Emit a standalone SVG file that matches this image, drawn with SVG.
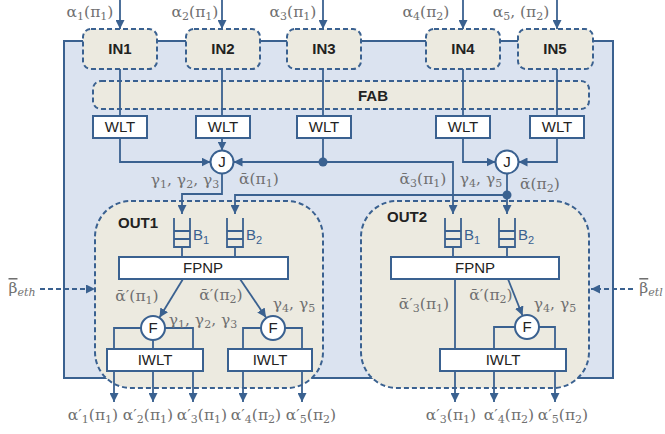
<svg xmlns="http://www.w3.org/2000/svg" width="665" height="434" viewBox="0 0 665 434">
<style>
.frame{fill:#dbe3f0;stroke:#3a6190;stroke-width:2}
.dn{fill:#eceae0;stroke:#3a6190;stroke-width:2;stroke-dasharray:5,3}
.bx{fill:#ffffff;stroke:#3a6190;stroke-width:2}
.c{fill:#3a6190;stroke:none}
.ln{fill:none;stroke:#3a6190;stroke-width:1.8}
.ar{marker-end:url(#ah)}
.dash{stroke-dasharray:5,3}
.nt{font-family:"Liberation Sans",Arial,sans-serif;font-size:15px;font-weight:bold;fill:#222;text-anchor:middle}
.bt{font-family:"Liberation Sans",Arial,sans-serif;font-size:15px;fill:#222;text-anchor:middle}
.bl{font-family:"Liberation Sans",Arial,sans-serif;font-size:15px;fill:#3a6190}
.m{font-family:"DejaVu Serif","Liberation Serif",serif;font-size:15.5px;fill:#707070;text-anchor:middle}
.s{font-size:11px}
.ov{text-decoration:overline}
</style>
<defs>
<marker id="ah" viewBox="0 0 10 10" refX="10" refY="5" markerWidth="9" markerHeight="9" markerUnits="userSpaceOnUse" orient="auto">
<path d="M0,0 L10,5 L0,10 z" fill="#3a6190"/>
</marker>
</defs>

<rect class="frame" x="64" y="41" width="549" height="337"/>

<g id="FAB"><rect class="dn" x="93" y="81" width="496" height="28" rx="8"/><text class="nt" x="373" y="101">FAB</text></g>

<g id="IN1"><rect class="dn" x="83" y="29" width="74" height="40" rx="8"/><text class="nt" x="120" y="54">IN1</text></g>
<g id="IN2"><rect class="dn" x="186" y="29" width="74" height="40" rx="8"/><text class="nt" x="223" y="54">IN2</text></g>
<g id="IN3"><rect class="dn" x="287" y="29" width="74" height="40" rx="8"/><text class="nt" x="324" y="54">IN3</text></g>
<g id="IN4"><rect class="dn" x="426" y="29" width="74" height="40" rx="8"/><text class="nt" x="463" y="54">IN4</text></g>
<g id="IN5"><rect class="dn" x="518" y="29" width="75" height="40" rx="8"/><text class="nt" x="555" y="54">IN5</text></g>

<g id="OUT1"><rect class="dn" x="95" y="201" width="228" height="187" rx="36"/><text class="nt" x="138" y="228">OUT1</text></g>
<g id="OUT2"><rect class="dn" x="361" y="201" width="228" height="187" rx="36"/><text class="nt" x="407" y="222">OUT2</text></g>

<g id="connectors">
<path class="ln ar" d="M120,0 V29"/>
<path class="ln ar" d="M222,0 V29"/>
<path class="ln ar" d="M323,0 V29"/>
<path class="ln ar" d="M463,0 V29"/>
<path class="ln ar" d="M557,0 V29"/>
<path class="ln" d="M120,69 V116 M222,69 V116 M323,69 V116 M463,69 V116 M557,69 V116"/>
<path class="ln ar" d="M120,138 V162 H210.5"/>
<path class="ln ar" d="M222,138 V150.5"/>
<path class="ln ar" d="M323,162 H233.5"/>
<path class="ln" d="M323,138 V162"/>
<path class="ln ar" d="M323,162 H453 V214"/>
<path class="ln ar" d="M222,173.5 V194 H182 V214"/>
<path class="ln ar" d="M463,138 V162 H495.5"/>
<path class="ln ar" d="M557,138 V162 H518.5"/>
<path class="ln ar" d="M507,173.5 V214"/>
<path class="ln ar" d="M507,195 H235 V214"/>
<circle class="c" cx="323" cy="162" r="4.5"/>
<circle class="c" cx="507" cy="195" r="4.5"/>
<path class="ln" d="M182,247 V257 M235,247 V257 M453,247 V257 M507,247 V257"/>
<path class="ln ar" d="M183,279 L159.5,317.5"/>
<path class="ln ar" d="M240,279 L266,317.5"/>
<path class="ln" d="M141,328 H114 V349 M165,328 H193 V349 M153,340 V349"/>
<path class="ln" d="M261,328 H243 V349 M285,328 H302 V349"/>
<path class="ln ar" d="M114,371 V402"/>
<path class="ln ar" d="M153,371 V402"/>
<path class="ln ar" d="M193,371 V402"/>
<path class="ln ar" d="M243,371 V402"/>
<path class="ln ar" d="M302,371 V402"/>
<path class="ln" d="M455,279 V349"/>
<path class="ln ar" d="M508,279 L522.5,315.5"/>
<path class="ln" d="M515,327 H494 V349 M539,327 H555 V349"/>
<path class="ln ar" d="M455,371 V402"/>
<path class="ln ar" d="M494,371 V402"/>
<path class="ln ar" d="M555,371 V402"/>
<path class="ln ar dash" d="M40,289 H95"/>
<path class="ln ar dash" d="M633,289 H591"/>
</g>

<g id="WLT1"><rect class="bx" x="93" y="116" width="54" height="22"/><text class="bt" x="120" y="132">WLT</text></g>
<g id="WLT2"><rect class="bx" x="196" y="116" width="54" height="22"/><text class="bt" x="223" y="132">WLT</text></g>
<g id="WLT3"><rect class="bx" x="297" y="116" width="54" height="22"/><text class="bt" x="324" y="132">WLT</text></g>
<g id="WLT4"><rect class="bx" x="436" y="116" width="54" height="22"/><text class="bt" x="463" y="132">WLT</text></g>
<g id="WLT5"><rect class="bx" x="530" y="116" width="54" height="22"/><text class="bt" x="557" y="132">WLT</text></g>

<g id="J1"><circle class="bx" cx="222" cy="162" r="11.5"/><text class="bt" x="222" y="167">J</text></g>
<g id="J2"><circle class="bx" cx="507" cy="162" r="11.5"/><text class="bt" x="507" y="167">J</text></g>

<g id="B1_OUT1"><path class="ln" d="M174,218 V247 H190 V218 M174,231 H190 M174,239 H190"/><text class="bl" x="193" y="240">B<tspan class="s" dy="4">1</tspan></text></g>
<g id="B2_OUT1"><path class="ln" d="M227,218 V247 H243 V218 M227,231 H243 M227,239 H243"/><text class="bl" x="246" y="240">B<tspan class="s" dy="4">2</tspan></text></g>
<g id="B1_OUT2"><path class="ln" d="M445,218 V247 H461 V218 M445,231 H461 M445,239 H461"/><text class="bl" x="464" y="240">B<tspan class="s" dy="4">1</tspan></text></g>
<g id="B2_OUT2"><path class="ln" d="M499,218 V247 H515 V218 M499,231 H515 M499,239 H515"/><text class="bl" x="518" y="240">B<tspan class="s" dy="4">2</tspan></text></g>

<g id="FPNP1"><rect class="bx" x="119" y="257" width="169" height="22"/><text class="bt" x="203" y="273">FPNP</text></g>
<g id="FPNP2"><rect class="bx" x="391" y="257" width="168" height="22"/><text class="bt" x="475" y="273">FPNP</text></g>

<g id="F1"><circle class="bx" cx="153" cy="328" r="12"/><text class="bt" x="153" y="333">F</text></g>
<g id="F2"><circle class="bx" cx="273" cy="328" r="12"/><text class="bt" x="273" y="333">F</text></g>
<g id="F3"><circle class="bx" cx="527" cy="327" r="12"/><text class="bt" x="527" y="332">F</text></g>

<g id="IWLT1"><rect class="bx" x="107" y="349" width="96" height="22"/><text class="bt" x="155" y="365">IWLT</text></g>
<g id="IWLT2"><rect class="bx" x="228" y="349" width="84" height="22"/><text class="bt" x="270" y="365">IWLT</text></g>
<g id="IWLT3"><rect class="bx" x="440" y="349" width="126" height="22"/><text class="bt" x="503" y="365">IWLT</text></g>

<g id="labels">
<text class="m" x="90" y="17">α<tspan class="s" dy="3">1</tspan><tspan dy="-3">(π</tspan><tspan class="s" dy="3">1</tspan><tspan dy="-3">)</tspan></text>
<text class="m" x="195" y="17">α<tspan class="s" dy="3">2</tspan><tspan dy="-3">(π</tspan><tspan class="s" dy="3">1</tspan><tspan dy="-3">)</tspan></text>
<text class="m" x="293" y="17">α<tspan class="s" dy="3">3</tspan><tspan dy="-3">(π</tspan><tspan class="s" dy="3">1</tspan><tspan dy="-3">)</tspan></text>
<text class="m" x="426" y="17">α<tspan class="s" dy="3">4</tspan><tspan dy="-3">(π</tspan><tspan class="s" dy="3">2</tspan><tspan dy="-3">)</tspan></text>
<text class="m" x="521" y="17">α<tspan class="s" dy="3">5</tspan><tspan dy="-3">, (π</tspan><tspan class="s" dy="3">2</tspan><tspan dy="-3">)</tspan></text>

<text class="m" x="185" y="185">γ<tspan class="s" dy="3">1</tspan><tspan dy="-3">, γ</tspan><tspan class="s" dy="3">2</tspan><tspan dy="-3">, γ</tspan><tspan class="s" dy="3">3</tspan></text>
<text class="m" x="259" y="184">ᾱ(π<tspan class="s" dy="3">1</tspan><tspan dy="-3">)</tspan></text>
<text class="m" x="423" y="184">ᾱ<tspan class="s" dy="3">3</tspan><tspan dy="-3">(π</tspan><tspan class="s" dy="3">1</tspan><tspan dy="-3">)</tspan></text>
<text class="m" x="481" y="184">γ<tspan class="s" dy="3">4</tspan><tspan dy="-3">, γ</tspan><tspan class="s" dy="3">5</tspan></text>
<text class="m" x="540" y="189">ᾱ(π<tspan class="s" dy="3">2</tspan><tspan dy="-3">)</tspan></text>

<text class="m" x="137" y="301">ᾱ′(π<tspan class="s" dy="3">1</tspan><tspan dy="-3">)</tspan></text>
<text class="m" x="221" y="300">ᾱ′(π<tspan class="s" dy="3">2</tspan><tspan dy="-3">)</tspan></text>
<text class="m" x="294" y="309">γ<tspan class="s" dy="3">4</tspan><tspan dy="-3">, γ</tspan><tspan class="s" dy="3">5</tspan></text>
<text class="m" x="203" y="325">γ<tspan class="s" dy="3">1</tspan><tspan dy="-3">, γ</tspan><tspan class="s" dy="3">2</tspan><tspan dy="-3">, γ</tspan><tspan class="s" dy="3">3</tspan></text>
<text class="m" x="424" y="309">ᾱ′<tspan class="s" dy="3">3</tspan><tspan dy="-3">(π</tspan><tspan class="s" dy="3">1</tspan><tspan dy="-3">)</tspan></text>
<text class="m" x="491" y="300">ᾱ′(π<tspan class="s" dy="3">2</tspan><tspan dy="-3">)</tspan></text>
<text class="m" x="555" y="309">γ<tspan class="s" dy="3">4</tspan><tspan dy="-3">, γ</tspan><tspan class="s" dy="3">5</tspan></text>

<text class="m" x="93" y="420">α′<tspan class="s" dy="3">1</tspan><tspan dy="-3">(π</tspan><tspan class="s" dy="3">1</tspan><tspan dy="-3">)</tspan></text>
<text class="m" x="148" y="420">α′<tspan class="s" dy="3">2</tspan><tspan dy="-3">(π</tspan><tspan class="s" dy="3">1</tspan><tspan dy="-3">)</tspan></text>
<text class="m" x="202" y="420">α′<tspan class="s" dy="3">3</tspan><tspan dy="-3">(π</tspan><tspan class="s" dy="3">1</tspan><tspan dy="-3">)</tspan></text>
<text class="m" x="256" y="420">α′<tspan class="s" dy="3">4</tspan><tspan dy="-3">(π</tspan><tspan class="s" dy="3">2</tspan><tspan dy="-3">)</tspan></text>
<text class="m" x="311" y="420">α′<tspan class="s" dy="3">5</tspan><tspan dy="-3">(π</tspan><tspan class="s" dy="3">2</tspan><tspan dy="-3">)</tspan></text>
<text class="m" x="451" y="420">α′<tspan class="s" dy="3">3</tspan><tspan dy="-3">(π</tspan><tspan class="s" dy="3">1</tspan><tspan dy="-3">)</tspan></text>
<text class="m" x="509" y="420">α′<tspan class="s" dy="3">4</tspan><tspan dy="-3">(π</tspan><tspan class="s" dy="3">2</tspan><tspan dy="-3">)</tspan></text>
<text class="m" x="563" y="420">α′<tspan class="s" dy="3">5</tspan><tspan dy="-3">(π</tspan><tspan class="s" dy="3">2</tspan><tspan dy="-3">)</tspan></text>

<text class="m" x="22" y="293"><tspan class="ov">β</tspan><tspan class="s" dy="3" font-style="italic">eth</tspan></text>
<text class="m" x="651" y="293"><tspan class="ov">β</tspan><tspan class="s" dy="3" font-style="italic">etl</tspan></text>
</g>
</svg>
